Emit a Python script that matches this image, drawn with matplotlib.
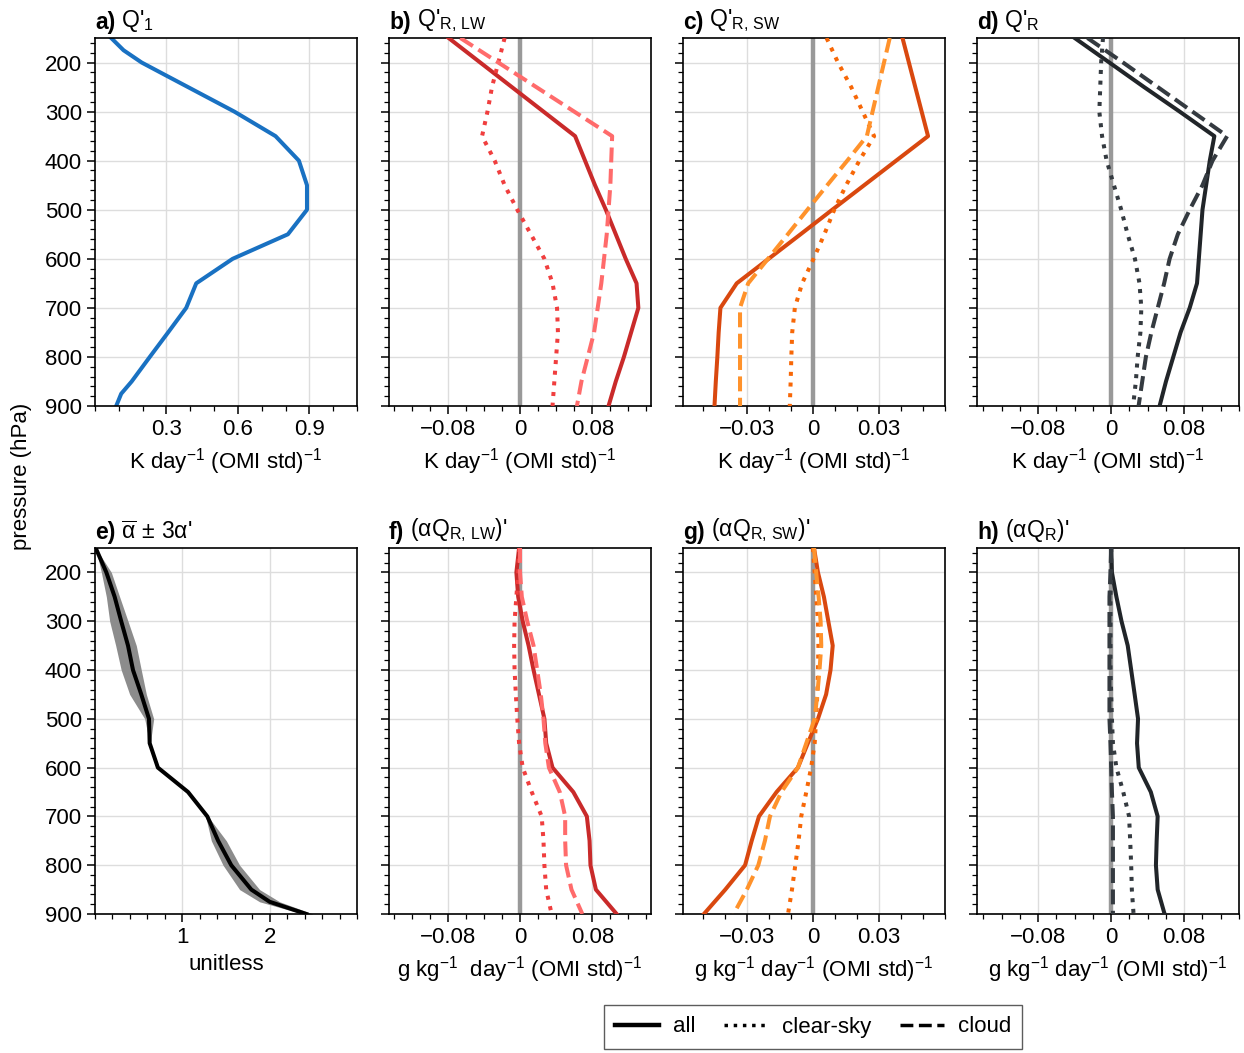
import matplotlib
matplotlib.use("Agg")
import matplotlib.pyplot as plt
from matplotlib.lines import Line2D
from matplotlib.ticker import MultipleLocator

plt.rcParams["font.family"] = ["Liberation Sans", "DejaVu Sans"]
plt.rcParams["mathtext.fontset"] = "custom"
plt.rcParams["mathtext.rm"] = "Liberation Sans"
plt.rcParams["mathtext.it"] = "Liberation Sans"
plt.rcParams["mathtext.bf"] = "Liberation Sans:bold"
plt.rcParams["axes.unicode_minus"] = True

# pressure levels (hPa)
lev = [150, 200, 250, 300, 350, 400, 450, 500, 550, 600, 650, 700, 750, 800, 850, 900]
lev_q1 = [150, 175, 200, 225, 300, 350, 400, 450, 500, 550, 600, 650, 700, 750, 800, 850, 875, 900]
lev_alpha = [150, 200, 250, 300, 350, 400, 450, 500, 550, 600, 650, 700, 750, 800, 850, 875, 900]

# a) Q1'
q1 = [0.068, 0.12, 0.196, 0.293, 0.585, 0.758, 0.856, 0.89, 0.89, 0.81, 0.578, 0.425,
      0.383, 0.307, 0.23, 0.154, 0.11, 0.089]

# b) Q'R,LW
lw_all = [-0.079, -0.044, -0.009, 0.026, 0.061, 0.072, 0.083, 0.095, 0.106, 0.117, 0.129,
          0.131, 0.123, 0.115, 0.106, 0.098]
lw_clear = [-0.017, -0.024, -0.031, -0.036, -0.042, -0.028, -0.017, -0.003, 0.012, 0.027,
            0.036, 0.041, 0.042, 0.040, 0.038, 0.036]
lw_cloud = [-0.066, -0.024, 0.018, 0.060, 0.102, 0.101, 0.100, 0.098, 0.096, 0.093, 0.090,
            0.086, 0.082, 0.075, 0.068, 0.063]

# c) Q'R,SW
sw_all = [0.0407, 0.0436, 0.0465, 0.0494, 0.0523, 0.0378, 0.0233, 0.0088, -0.0056, -0.0201,
          -0.0346, -0.042, -0.0428, -0.0434, -0.0441, -0.0447]
sw_clear = [0.0062, 0.0114, 0.0174, 0.0226, 0.0278, 0.0211, 0.0151, 0.0097, 0.0052, 0.0003,
            -0.0049, -0.0082, -0.0094, -0.0098, -0.0101, -0.0105]
sw_cloud = [0.0349, 0.0323, 0.0297, 0.0271, 0.0245, 0.0156, 0.0065, -0.0025, -0.0114, -0.0204,
            -0.0294, -0.0331, -0.0331, -0.0331, -0.0331, -0.0331]

# d) Q'R
r_all = [-0.040, -0.002, 0.036, 0.075, 0.113, 0.108, 0.104, 0.100, 0.098, 0.096, 0.094,
         0.086, 0.076, 0.068, 0.060, 0.053]
r_clear = [-0.009, -0.011, -0.012, -0.013, -0.010, -0.005, 0.003, 0.011, 0.018, 0.026,
           0.031, 0.033, 0.032, 0.029, 0.027, 0.024]
r_cloud = [-0.026, 0.013, 0.051, 0.089, 0.127, 0.111, 0.100, 0.086, 0.073, 0.064, 0.058,
           0.051, 0.044, 0.038, 0.034, 0.030]

# e) alpha mean and +/- 3 alpha'
alpha_mean = [0.008, 0.13, 0.225, 0.30, 0.378, 0.435, 0.53, 0.618, 0.626, 0.72, 1.065,
              1.286, 1.41, 1.56, 1.79, 2.0, 2.42]
alpha_lo = [0.008, 0.073, 0.13, 0.168, 0.237, 0.30, 0.397, 0.569, 0.626, 0.72, 1.065,
            1.267, 1.332, 1.466, 1.656, 1.885, 2.38]
alpha_hi = [0.008, 0.187, 0.282, 0.378, 0.473, 0.53, 0.588, 0.672, 0.634, 0.72, 1.065,
            1.294, 1.504, 1.656, 1.885, 2.115, 2.496]

# f) (alpha QR,LW)'
aLW_all = [-0.001, -0.004, -0.002, 0.003, 0.0095, 0.015, 0.021, 0.027, 0.029, 0.036, 0.059,
           0.074, 0.077, 0.078, 0.084, 0.107]
aLW_clear = [-0.001, -0.002, -0.004, -0.006, -0.0065, -0.006, -0.0046, -0.003, -0.001, 0.003,
             0.013, 0.024, 0.026, 0.027, 0.029, 0.035]
aLW_cloud = [0.0, 0.0, 0.002, 0.008, 0.015, 0.019, 0.023, 0.026, 0.028, 0.032, 0.044, 0.050,
             0.050, 0.051, 0.057, 0.069]

# g) (alpha QR,SW)'
aSW_all = [0.0005, 0.0023, 0.005, 0.007, 0.009, 0.008, 0.006, 0.0023, -0.0023, -0.0068,
           -0.0165, -0.0245, -0.0278, -0.0308, -0.0398, -0.0495]
aSW_clear = [0.0, 0.0008, 0.0015, 0.0023, 0.0025, 0.0023, 0.002, 0.0015, 0.0008, -0.0008,
             -0.003, -0.0053, -0.0065, -0.008, -0.0095, -0.0113]
aSW_cloud = [0.0005, 0.0015, 0.0026, 0.0035, 0.0038, 0.003, 0.002, 0.0008, -0.003, -0.0068,
             -0.0143, -0.0195, -0.0218, -0.0248, -0.030, -0.036]

# h) (alpha QR)'
aR_all = [0.0, 0.0008, 0.0057, 0.0113, 0.0181, 0.0219, 0.0257, 0.0294, 0.0283, 0.0302,
          0.0434, 0.0509, 0.0498, 0.049, 0.0509, 0.0585]
aR_clear = [0.0, 0.0, -0.0008, -0.0008, -0.0008, -0.0008, 0.0, 0.0008, 0.0019, 0.0057,
            0.0132, 0.0196, 0.0208, 0.0219, 0.0226, 0.0245]
aR_cloud = [0.0, -0.0008, -0.0019, -0.0019, -0.0019, -0.0019, -0.0019, -0.0019, -0.0008,
            0.0, 0.0008, 0.0019, 0.0019, 0.0019, 0.0019, 0.0019]

kunit = "K day$^{-1}$ (OMI std)$^{-1}$"
gunit = "g kg$^{-1}$ day$^{-1}$ (OMI std)$^{-1}$"

red = ["#c92a2a", "#f03e3e", "#ff6b6b"]
orange = ["#d9480f", "#f76707", "#ff922b"]
gray = ["#212529", "#343a40", "#343a40"]

FS = 16

fig = plt.figure(figsize=(12.44, 10.53), dpi=100)
lefts = [95, 389, 683, 977]
W, H = 1244, 1053
axes = []
for top, bot in [(38, 406), (548, 914)]:
    for l in lefts:
        ax = fig.add_axes([l / W, 1 - bot / H, 262 / W, (bot - top) / H])
        axes.append(ax)

titles = [("a)", "Q'$_1$"), ("b)", "Q'$_{\\rm R,\\,LW}$"), ("c)", "Q'$_{\\rm R,\\,SW}$"),
          ("d)", "Q'$_{\\rm R}$"), ("e)", "$\\overline{\\rm \\alpha}\\,\\pm\\,$3α'"),
          ("f)", "(αQ$_{\\rm R,\\,LW}$)'"), ("g)", "(αQ$_{\\rm R,\\,SW}$)'"), ("h)", "(αQ$_{\\rm R}$)'")]

for i, ax in enumerate(axes):
    ax.set_ylim(900, 150)
    ax.set_yticks([200, 300, 400, 500, 600, 700, 800, 900])
    ax.yaxis.set_minor_locator(MultipleLocator(20))
    if i % 4 != 0:
        ax.set_yticklabels([])
    ax.grid(True, which="major", color="#dddddd", lw=1.0)
    ax.set_axisbelow(True)
    ax.tick_params(which="major", length=6, width=1.1, labelsize=FS, direction="out")
    ax.tick_params(which="minor", length=3.5, width=0.9, direction="out")
    for sp in ax.spines.values():
        sp.set_linewidth(1.2)
    b = ax.text(0.0, 1.012, titles[i][0], transform=ax.transAxes, fontsize=FS + 0.5,
                fontweight="bold", ha="left", va="bottom")
    ax.annotate(" " + titles[i][1], xy=(1, 0), xycoords=b, fontsize=FS + 0.5,
                ha="left", va="bottom")

lw = 2.9
# a
ax = axes[0]
ax.plot(q1, lev_q1, color="#1971c2", lw=lw)
ax.set_xlim(0.0, 1.1)
ax.set_xticks([0.3, 0.6, 0.9])
ax.set_xticklabels(["0.3", "0.6", "0.9"])
ax.xaxis.set_minor_locator(MultipleLocator(0.1))
ax.set_xlabel(kunit, fontsize=FS)


def profile(ax, series, colors, lim, major, labels, minor, xlabel):
    ax.axvline(0, color="#999999", lw=3.2, zorder=1.5)
    styles = ["-", ":", "--"]
    for s, c, ls in zip(series, colors, styles):
        ax.plot(s, lev, color=c, lw=lw, ls=ls, zorder=3)
    ax.set_xlim(*lim)
    ax.set_xticks(major)
    ax.set_xticklabels(labels)
    ax.xaxis.set_minor_locator(MultipleLocator(minor))
    ax.set_xlabel(xlabel, fontsize=FS)


lab08 = ["\u22120.08", "0", "0.08"]
lab03 = ["\u22120.03", "0", "0.03"]
profile(axes[1], [lw_all, lw_clear, lw_cloud], red, (-0.145, 0.145), [-0.08, 0, 0.08], lab08, 0.02, kunit)
profile(axes[2], [sw_all, sw_clear, sw_cloud], orange, (-0.059, 0.06), [-0.03, 0, 0.03], lab03, 0.01, kunit)
profile(axes[3], [r_all, r_clear, r_cloud], gray, (-0.147, 0.14), [-0.08, 0, 0.08], lab08, 0.02, kunit)

# e
ax = axes[4]
ax.fill_betweenx(lev_alpha, alpha_lo, alpha_hi, color="#8c8c8c", lw=0, zorder=2)
ax.plot(alpha_mean, lev_alpha, color="black", lw=lw, zorder=3)
ax.set_xlim(0.0, 3.0)
ax.set_xticks([1, 2])
ax.set_xticklabels(["1", "2"])
ax.xaxis.set_minor_locator(MultipleLocator(0.2))
ax.set_xlabel("unitless", fontsize=FS)

profile(axes[5], [aLW_all, aLW_clear, aLW_cloud], red, (-0.145, 0.145), [-0.08, 0, 0.08], lab08, 0.02,
        "g kg$^{-1}$  day$^{-1}$ (OMI std)$^{-1}$")
profile(axes[6], [aSW_all, aSW_clear, aSW_cloud], orange, (-0.059, 0.06), [-0.03, 0, 0.03], lab03, 0.01, gunit)
profile(axes[7], [aR_all, aR_clear, aR_cloud], gray, (-0.147, 0.14), [-0.08, 0, 0.08], lab08, 0.02, gunit)

fig.text(22 / W, 1 - 476 / H, "pressure (hPa)", rotation=90, ha="center", va="center", fontsize=FS)

handles = [Line2D([], [], color="black", lw=3.2, ls="-"),
           Line2D([], [], color="black", lw=2.5, ls=":"),
           Line2D([], [], color="black", lw=2.5, ls="--")]
leg = fig.legend(handles, ["all", "clear-sky", "cloud"], ncol=3, loc="center",
                 bbox_to_anchor=(813 / W, 1 - 1027 / H), fontsize=FS, frameon=True,
                 fancybox=False, edgecolor="#333333", handlelength=2.0, columnspacing=1.3,
                 handletextpad=0.6, borderpad=0.5)
leg.get_frame().set_linewidth(1.0)

fig.savefig("out.png", dpi=100)
